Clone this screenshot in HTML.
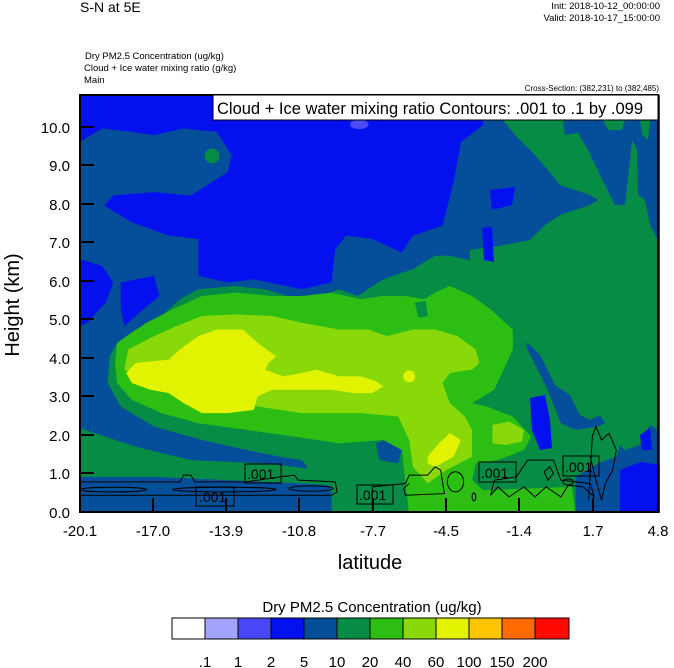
<!DOCTYPE html>
<html><head><meta charset="utf-8"><style>
body{margin:0;background:#fff;width:674px;height:668px;overflow:hidden;font-family:"Liberation Sans",sans-serif}
svg{display:block}
text{font-family:"Liberation Sans",sans-serif;fill:#000}
</style></head><body>
<svg width="674" height="668" viewBox="0 0 674 668">
<defs><clipPath id="pc"><rect x="80" y="95" width="580" height="418"/></clipPath></defs>
<g clip-path="url(#pc)">
<rect x="80" y="95" width="580" height="420" fill="#054e99"/>
<g transform="translate(80,95) scale(0.36990,0.33493)">
<path fill="#0510ee" d="M0,0 L1095,0 L1090,90 L1030,140 L1010,260 L980,390 L900,420 L870,470 L790,430 L720,420 L690,460 L680,560 L600,580 L470,550 L400,560 L320,540 L320,430 L240,420 L140,380 L65,330 L90,300 L200,290 L300,300 L400,230 L410,180 L370,110 L280,100 L200,120 L140,110 L60,100 L0,140 Z"/>
<path fill="#0510ee" d="M0,490 L60,510 L90,560 L70,620 L20,680 L0,690 Z"/>
<path fill="#0510ee" d="M110,560 L200,540 L215,600 L160,650 L120,690 L110,640 Z"/>
<ellipse cx="755" cy="88" rx="25" ry="14" fill="#4a4cf5"/>
<ellipse cx="357" cy="182" rx="20" ry="22" fill="#068c44"/>
<path fill="#068c44" d="M1000,480 L1080,500 L1130,510 L1170,560 L1180,660 L1210,760 L1260,870 L1300,980 L1340,1000 L1400,990 L1460,960 L1470,1010 L1450,1080 L1400,1100 L1340,1140 L1340,1254 L680,1254 L680,1170 L640,1150 L620,1120 L600,1090 L540,1080 L450,1060 L330,1030 L200,990 L110,930 L75,860 L80,780 L100,740 L150,700 L220,660 L270,610 L320,580 L420,570 L500,580 L560,600 L630,610 L700,580 L750,600 L820,550 L900,520 L960,480 Z"/>
<path fill="#068c44" d="M0,995 L150,1050 L300,1090 L500,1100 L650,1120 L680,1165 L600,1160 L400,1150 L200,1140 L0,1140 Z"/>
</g>
<!-- right dark green -->
<path fill="#068c44" d="M503,120 L563,120 L565,135 L578,133 L588,150 L600,175 L610,195 L615,205 L625,205 L630,160 L632,140 L637,150 L638,195 L645,200 L650,225 L658,240 L658,430 L650,425 L640,445 L625,450 L615,440 L600,415 L590,420 L580,415 L570,395 L555,385 L540,355 L530,345 L520,340 L505,320 L485,300 L470,295 L470,250 L505,245 L530,240 L545,225 L560,215 L590,205 L598,200 L590,195 L575,190 L560,185 L548,170 L535,155 L515,135 Z"/>
<path fill="#068c44" d="M603,120 L625,120 L622,130 L608,130 Z"/>
<path fill="#068c44" d="M640,120 L650,120 L648,140 L642,135 Z"/>
<g transform="translate(80,95) scale(0.36990,0.33493)">
<path fill="#054e99" d="M800,1040 L850,1020 L870,1060 L860,1100 L810,1090 Z"/>
<path fill="#2cbe12" d="M100,740 L180,680 L250,640 L330,600 L420,590 L520,600 L600,600 L680,590 L760,610 L820,600 L880,600 L930,610 L960,590 L1000,570 L1060,600 L1110,640 L1170,700 L1170,760 L1120,880 L1060,920 L1100,930 L1170,960 L1220,1020 L1200,1060 L1130,1090 L1070,1100 L1060,1150 L1090,1180 L1330,1170 L1340,1254 L890,1254 L880,1160 L870,1060 L820,1030 L700,1040 L580,1020 L450,1000 L320,980 L220,950 L140,910 L100,860 L95,800 Z"/>
<path fill="#068c44" d="M905,620 L935,615 L940,660 L915,665 Z"/>
<path fill="#88d80a" d="M130,760 L200,720 L260,690 L330,660 L420,655 L520,660 L600,680 L700,700 L780,700 L830,720 L900,700 L960,700 L1020,720 L1070,760 L1080,800 L1060,820 L1000,830 L980,860 L1000,920 L1040,960 L1060,1000 L1060,1080 L990,1120 L940,1160 L900,1110 L890,1030 L860,960 L760,950 L600,950 L480,930 L340,910 L240,880 L160,850 L120,820 Z"/>
<path fill="#88d80a" d="M1115,985 L1160,975 L1200,1000 L1195,1035 L1150,1045 L1115,1040 Z"/>
<path fill="#e1f300" d="M125,830 L150,800 L240,790 L270,760 L320,720 L370,700 L440,700 L480,740 L530,780 L510,800 L500,820 L550,840 L600,830 L640,820 L700,840 L760,840 L800,855 L820,870 L790,890 L740,890 L680,880 L600,880 L520,880 L480,900 L470,940 L400,950 L330,950 L280,920 L240,890 L190,880 L140,860 Z"/>
<ellipse cx="890" cy="840" rx="16" ry="18" fill="#e1f300"/>
<path fill="#e1f300" d="M940,1080 L970,1040 L1000,1010 L1030,1030 L1010,1080 L960,1110 L940,1100 Z"/>
</g>
<path fill="#0510ee" d="M530,398 L545,395 L550,420 L552,448 L540,450 L532,430 Z"/>
<path fill="#0510ee" d="M620,512 L620,470 L640,462 L660,465 L660,512 Z"/>
<path fill="#0510ee" d="M640,435 L650,428 L652,450 L642,450 Z"/>
<path fill="#0510ee" d="M490,190 L515,187 L512,205 L492,210 Z"/>
<path fill="#0510ee" d="M482,228 L492,227 L494,262 L484,260 Z"/>
<path fill="#0510ee" d="M80,95 L480,95 L480,120 L80,120 Z"/>
<g transform="translate(80,95) scale(0.36990,0.33493)" fill="none" stroke="#000" stroke-width="1">
<path vector-effect="non-scaling-stroke" d="M0,1155 L270,1155 L280,1135 L300,1135 L310,1155 L450,1155 L540,1140 L580,1135 L590,1150 L690,1155 L695,1185 L680,1195 L540,1195 L400,1195 L0,1195"/>
<ellipse vector-effect="non-scaling-stroke" cx="90" cy="1178" rx="90" ry="7"/>
<ellipse vector-effect="non-scaling-stroke" cx="390" cy="1178" rx="140" ry="7"/>
<ellipse vector-effect="non-scaling-stroke" cx="625" cy="1175" rx="60" ry="8"/>
<path vector-effect="non-scaling-stroke" d="M790,1254 L790,1170 L880,1160 L890,1135 L940,1135 L960,1110 L975,1120 L985,1190 L880,1195 L875,1175 L890,1160"/>
<ellipse vector-effect="non-scaling-stroke" cx="1015" cy="1155" rx="22" ry="30"/>
<ellipse vector-effect="non-scaling-stroke" cx="1065" cy="1200" rx="5" ry="12"/>
<path vector-effect="non-scaling-stroke" d="M1110,1195 L1120,1150 L1180,1140 L1210,1090 L1280,1090 L1300,1150 L1380,1160 L1390,1200 L1360,1170 L1320,1165 L1300,1200 L1260,1170 L1230,1200 L1200,1170 L1160,1200 L1130,1170 Z"/>
<path vector-effect="non-scaling-stroke" d="M1375,1210 L1385,1020 L1395,990 L1410,1030 L1430,1010 L1450,1060 L1440,1120 L1420,1160 L1410,1210 L1390,1130 L1380,1080"/>
<ellipse vector-effect="non-scaling-stroke" cx="1320" cy="1155" rx="14" ry="9"/>
<path vector-effect="non-scaling-stroke" d="M1270,1110 L1280,1130 L1265,1150 L1255,1125 Z"/>
</g>
</g>
<rect x="80" y="95" width="578" height="417" fill="none" stroke="#000" stroke-width="2"/>
<rect x="213" y="95" width="445" height="25" fill="#fff" stroke="#000" stroke-width="1"/>
<text x="217" y="114" font-size="16.5">Cloud + Ice water mixing ratio Contours: .001 to .1 by .099</text>
<g stroke="#000" stroke-width="1" fill="none">
<rect x="245" y="464" width="36" height="19"/>
<rect x="196" y="487" width="38" height="19"/>
<rect x="357" y="485" width="36" height="19"/>
<rect x="479" y="462" width="37" height="20"/>
<rect x="563" y="456" width="36" height="20"/>
</g>
<g font-size="14">
<text x="247" y="479">.001</text><text x="199" y="502">.001</text><text x="359" y="500">.001</text><text x="481" y="478">.001</text><text x="565" y="472">.001</text>
</g>
<g stroke="#000" stroke-width="2">
<line x1="80" y1="127" x2="94" y2="127"/><line x1="80" y1="165" x2="94" y2="165"/><line x1="80" y1="204" x2="94" y2="204"/><line x1="80" y1="242" x2="94" y2="242"/><line x1="80" y1="281" x2="94" y2="281"/><line x1="80" y1="319" x2="94" y2="319"/><line x1="80" y1="358" x2="94" y2="358"/><line x1="80" y1="396" x2="94" y2="396"/><line x1="80" y1="435" x2="94" y2="435"/><line x1="80" y1="473" x2="94" y2="473"/>
<line x1="153" y1="512" x2="153" y2="498"/><line x1="226" y1="512" x2="226" y2="498"/><line x1="299" y1="512" x2="299" y2="498"/><line x1="373" y1="512" x2="373" y2="498"/><line x1="446" y1="512" x2="446" y2="498"/><line x1="519" y1="512" x2="519" y2="498"/><line x1="593" y1="512" x2="593" y2="498"/>
</g>
<g font-size="15" text-anchor="end">
<text x="70" y="133">10.0</text><text x="70" y="171">9.0</text><text x="70" y="210">8.0</text><text x="70" y="248">7.0</text><text x="70" y="287">6.0</text><text x="70" y="325">5.0</text><text x="70" y="364">4.0</text><text x="70" y="402">3.0</text><text x="70" y="441">2.0</text><text x="70" y="479">1.0</text><text x="70" y="518">0.0</text>
</g>
<g font-size="15" text-anchor="middle">
<text x="80" y="536">-20.1</text><text x="153" y="536">-17.0</text><text x="226" y="536">-13.9</text><text x="299" y="536">-10.8</text><text x="373" y="536">-7.7</text><text x="446" y="536">-4.5</text><text x="519" y="536">-1.4</text><text x="593" y="536">1.7</text><text x="658" y="536">4.8</text>
</g>
<text x="370" y="569" font-size="20" text-anchor="middle">latitude</text>
<text transform="translate(19,305) rotate(-90)" font-size="20" text-anchor="middle">Height (km)</text>
<text x="80" y="12" font-size="14">S-N at 5E</text>
<text x="660" y="9" font-size="9.5" text-anchor="end">Init: 2018-10-12_00:00:00</text>
<text x="660" y="21" font-size="9.5" text-anchor="end">Valid: 2018-10-17_15:00:00</text>
<text x="85" y="59" font-size="9.5">Dry PM2.5 Concentration   (ug/kg)</text>
<text x="84" y="71" font-size="9.5">Cloud + Ice water mixing ratio   (g/kg)</text>
<text x="84" y="83" font-size="9.5">Main</text>
<text x="659" y="91" font-size="8" text-anchor="end">Cross-Section: (382,231) to (382,485)</text>
<text x="372" y="612" font-size="15" text-anchor="middle">Dry PM2.5 Concentration  (ug/kg)</text>
<g stroke="#000" stroke-width="1">
<rect x="172" y="618" width="33" height="21" fill="#fff"/>
<rect x="205" y="618" width="33" height="21" fill="#a3a3fb"/>
<rect x="238" y="618" width="33" height="21" fill="#4848f9"/>
<rect x="271" y="618" width="33" height="21" fill="#0510ee"/>
<rect x="304" y="618" width="33" height="21" fill="#054e99"/>
<rect x="337" y="618" width="33" height="21" fill="#068c44"/>
<rect x="370" y="618" width="33" height="21" fill="#2cbe12"/>
<rect x="403" y="618" width="33" height="21" fill="#88d80a"/>
<rect x="436" y="618" width="33" height="21" fill="#e1f300"/>
<rect x="469" y="618" width="33" height="21" fill="#ffc400"/>
<rect x="502" y="618" width="33" height="21" fill="#ff6a00"/>
<rect x="535" y="618" width="34" height="21" fill="#ff0a00"/>
</g>
<g font-size="15" text-anchor="middle">
<text x="205" y="667">.1</text><text x="238" y="667">1</text><text x="271" y="667">2</text><text x="304" y="667">5</text><text x="337" y="667">10</text><text x="370" y="667">20</text><text x="403" y="667">40</text><text x="436" y="667">60</text><text x="469" y="667">100</text><text x="502" y="667">150</text><text x="535" y="667">200</text>
</g>
</svg>
</body></html>
